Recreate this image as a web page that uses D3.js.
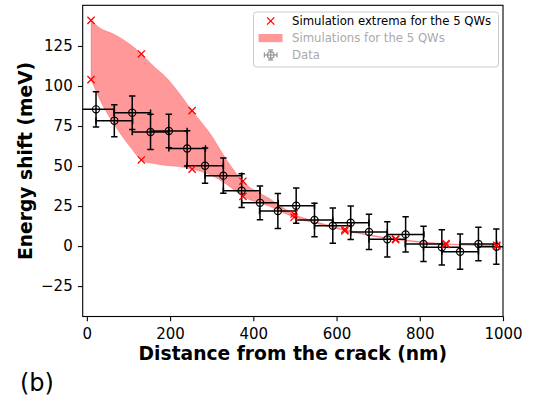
<!DOCTYPE html>
<html lang="en">
<head>
    <meta charset="UTF-8">
    <title>Energy shift vs distance from the crack</title>
    <script src="https://d3js.org/d3.v7.min.js"></script>
    <style>
        body {
            margin: 0;
            background: #fff;
            font-family: "DejaVu Sans", sans-serif;
        }
        .tick text {
            font-family: "DejaVu Sans", sans-serif;
            font-size: 15px;
            fill: #000;
        }
        .tick line {
            stroke: #000;
            stroke-width: 1.1;
        }
        .axis-label {
            font-family: "DejaVu Sans", sans-serif;
            font-weight: bold;
            font-size: 18.7px;
        }
        .legend text {
            font-family: "DejaVu Sans", sans-serif;
            font-size: 11.7px;
        }
    </style>
</head>
<body>
    <svg width="541" height="405"></svg>

    <script>
        // measured data points (distance in nm, shift in meV)
        const dataX = [22, 66, 109, 153, 197, 241, 284, 328, 372, 416, 459, 503, 547, 591, 634, 678, 722, 766, 809, 853, 897, 941, 984];
        const dataY = [85.4, 78.3, 83.3, 71.3, 71.9, 61, 50.2, 44, 34.6, 27, 21.9, 25.2, 16.3, 12.7, 14.6, 8.8, 4.2, 7.3, 1.3, -0.8, -3.5, 1.3, -0.4];
        const dataXErr = [44, 44, 44, 44, 44, 44, 44, 44, 44, 44, 44, 44, 44, 44, 44, 44, 44, 44, 44, 44, 44, 44, 44];
        const dataYErr = [11, 10, 10.5, 11, 10.5, 11, 11, 11, 10.5, 10.5, 11, 11, 10.5, 11, 10.5, 11, 11, 11, 11, 11, 11, 10.5, 11];

        // simulation extrema (red crosses)
        const simX = [10, 131, 253, 375, 498, 620, 742, 863, 985];
        const simMax = [141, 120, 84.6, 40.5, 20, 10.5, 4.5, 1.5, 0.5];
        const simMin = [104, 53.8, 48, 31, 18, 9.5, 4, 1, 0];

        // envelope of the simulations (shaded band)
        const bandX = [10, 32, 64, 104, 131, 160, 192, 216, 253, 296, 336, 375, 437, 498, 560, 620, 680, 742, 803, 863, 925, 985];
        const bandUpper = [141, 136, 132.5, 126, 120, 112.5, 105, 97.5, 84.6, 70.4, 53.8, 40.5, 30, 20, 14.5, 10.5, 7, 4.5, 2.8, 1.5, 0.9, 0.5];
        const bandLower = [104, 91, 76.7, 62, 53.8, 51.5, 50.3, 49.8, 48, 44.5, 38.5, 31, 25, 18, 13.5, 9.5, 6.5, 4, 2.2, 1, 0.4, 0];

        const xTicks = [0, 200, 400, 600, 800, 1000];
        const yTicks = [-25, 0, 25, 50, 75, 100, 125];

        const svg = d3.select("svg");
        const box = {left: 82.7, right: 503, top: 5.3, bottom: 316.5};

        const x = d3.scaleLinear().domain([-10, 1000]).range([box.left, box.right]);
        const y = d3.scaleLinear().domain([-44, 150.4]).range([box.bottom, box.top]);

        svg.append("defs").append("clipPath").attr("id", "plot-clip")
            .append("rect")
            .attr("x", box.left).attr("y", box.top)
            .attr("width", box.right - box.left).attr("height", box.bottom - box.top);

        const plot = svg.append("g").attr("clip-path", "url(#plot-clip)");

        // shaded band
        const band = bandX.map((v, i) => ({x: v, hi: bandUpper[i], lo: bandLower[i]}));
        plot.append("path")
            .datum(band)
            .attr("d", d3.area()
                .x(d => x(d.x))
                .y0(d => y(d.lo))
                .y1(d => y(d.hi))
                .curve(d3.curveMonotoneX))
            .attr("fill", "red")
            .attr("fill-opacity", 0.4)
            .attr("stroke", "red")
            .attr("stroke-opacity", 0.25)
            .attr("stroke-width", 0.8);

        // data with error bars
        const pts = dataX.map((v, i) => ({x: v, y: dataY[i], xe: dataXErr[i], ye: dataYErr[i]}));
        const cap = 3.2;
        const eb = plot.append("g").attr("stroke", "#000").attr("stroke-width", 1.5).attr("fill", "none");
        pts.forEach(d => {
            const cx = x(d.x), cy = y(d.y);
            const x0 = x(d.x - d.xe), x1 = x(d.x + d.xe);
            const y0 = y(d.y - d.ye), y1 = y(d.y + d.ye);
            eb.append("line").attr("x1", x0).attr("x2", x1).attr("y1", cy).attr("y2", cy);
            eb.append("line").attr("x1", cx).attr("x2", cx).attr("y1", y0).attr("y2", y1);
            eb.append("line").attr("x1", x0).attr("x2", x0).attr("y1", cy - cap).attr("y2", cy + cap);
            eb.append("line").attr("x1", x1).attr("x2", x1).attr("y1", cy - cap).attr("y2", cy + cap);
            eb.append("line").attr("x1", cx - cap).attr("x2", cx + cap).attr("y1", y0).attr("y2", y0);
            eb.append("line").attr("x1", cx - cap).attr("x2", cx + cap).attr("y1", y1).attr("y2", y1);
        });
        eb.selectAll("circle.pt")
            .data(pts)
            .enter().append("circle")
            .attr("class", "pt")
            .attr("cx", d => x(d.x))
            .attr("cy", d => y(d.y))
            .attr("r", 3.6)
            .attr("stroke-width", 1.2);

        // red crosses
        const crosses = [];
        simX.forEach((v, i) => {
            crosses.push({x: v, y: simMax[i]});
            crosses.push({x: v, y: simMin[i]});
        });
        const s = 3.6;
        const cr = plot.append("g").attr("stroke", "red").attr("stroke-width", 1.3);
        crosses.forEach(d => {
            const cx = x(d.x), cy = y(d.y);
            cr.append("line").attr("x1", cx - s).attr("y1", cy - s).attr("x2", cx + s).attr("y2", cy + s);
            cr.append("line").attr("x1", cx - s).attr("y1", cy + s).attr("x2", cx + s).attr("y2", cy - s);
        });

        // axes
        svg.append("g")
            .attr("transform", `translate(0,${box.bottom})`)
            .call(d3.axisBottom(x).tickValues(xTicks).tickFormat(d3.format("d"))
                .tickSize(4.7).tickPadding(7).tickSizeOuter(0))
            .call(g => g.select(".domain").remove());

        svg.append("g")
            .attr("transform", `translate(${box.left},0)`)
            .call(d3.axisLeft(y).tickValues(yTicks).tickFormat(d3.format("d"))
                .tickSize(4.7).tickPadding(5.3).tickSizeOuter(0))
            .call(g => g.select(".domain").remove());

        svg.append("rect")
            .attr("x", box.left).attr("y", box.top)
            .attr("width", box.right - box.left).attr("height", box.bottom - box.top)
            .attr("fill", "none").attr("stroke", "#000").attr("stroke-width", 1.1);

        svg.append("text")
            .attr("class", "axis-label")
            .attr("x", (box.left + box.right) / 2)
            .attr("y", 360)
            .attr("text-anchor", "middle")
            .text("Distance from the crack (nm)");

        svg.append("text")
            .attr("class", "axis-label")
            .attr("transform", `translate(31.5,${(box.top + box.bottom) / 2}) rotate(-90)`)
            .attr("text-anchor", "middle")
            .text("Energy shift (meV)");

        svg.append("text")
            .attr("x", 20)
            .attr("y", 391)
            .style("font-family", "DejaVu Sans, sans-serif")
            .style("font-size", "24px")
            .text("(b)");

        // legend
        const lg = svg.append("g").attr("class", "legend");
        lg.append("rect")
            .attr("x", 253.5).attr("y", 12)
            .attr("width", 245).attr("height", 55)
            .attr("rx", 3)
            .attr("fill", "#fff").attr("fill-opacity", 0.8)
            .attr("stroke", "#ccc").attr("stroke-width", 1);

        const lx = 270.7;
        lg.append("line").attr("x1", lx - s).attr("y1", 21 - s).attr("x2", lx + s).attr("y2", 21 + s)
            .attr("stroke", "red").attr("stroke-width", 1.3);
        lg.append("line").attr("x1", lx - s).attr("y1", 21 + s).attr("x2", lx + s).attr("y2", 21 - s)
            .attr("stroke", "red").attr("stroke-width", 1.3);
        lg.append("text").attr("x", 292).attr("y", 25.3).attr("fill", "#000")
            .text("Simulation extrema for the 5 QWs");

        lg.append("rect").attr("x", 258.5).attr("y", 34).attr("width", 24).attr("height", 8.2)
            .attr("fill", "red").attr("fill-opacity", 0.4);
        lg.append("text").attr("x", 292).attr("y", 42.3).attr("fill", "#aaa")
            .text("Simulations for the 5 QWs");

        const di = lg.append("g").attr("stroke", "#999").attr("stroke-width", 1.3).attr("fill", "none");
        const dy0 = 55;
        di.append("line").attr("x1", lx - 6.3).attr("x2", lx + 6.3).attr("y1", dy0).attr("y2", dy0);
        di.append("line").attr("x1", lx).attr("x2", lx).attr("y1", dy0 - 5).attr("y2", dy0 + 5);
        di.append("line").attr("x1", lx - 6.3).attr("x2", lx - 6.3).attr("y1", dy0 - 2.5).attr("y2", dy0 + 2.5);
        di.append("line").attr("x1", lx + 6.3).attr("x2", lx + 6.3).attr("y1", dy0 - 2.5).attr("y2", dy0 + 2.5);
        di.append("line").attr("x1", lx - 2.5).attr("x2", lx + 2.5).attr("y1", dy0 - 5).attr("y2", dy0 - 5);
        di.append("line").attr("x1", lx - 2.5).attr("x2", lx + 2.5).attr("y1", dy0 + 5).attr("y2", dy0 + 5);
        di.append("circle").attr("cx", lx).attr("cy", dy0).attr("r", 3.3);
        lg.append("text").attr("x", 292).attr("y", 59.3).attr("fill", "#aaa")
            .text("Data");
    </script>
</body>
</html>
